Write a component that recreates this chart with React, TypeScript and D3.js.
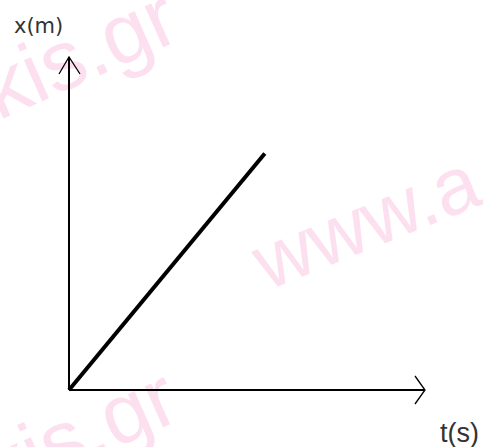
import React from "react";
import * as d3 from "d3";

const tDomain = [0, 10];
const xDomain = [0, 10];
const tValues = [0, 5.5];
const xValues = [0, 7.1];
const axisLabels = ["t(s)", "x(m)"];
const watermarks = ["akis.gr", "www.a", "akis.gr"];

export default function App() {
  const W = 483, H = 447;
  const ox = 69, oy = 390;
  const sx = d3.scaleLinear().domain(tDomain).range([ox, 425]);
  const sy = d3.scaleLinear().domain(xDomain).range([oy, 57]);
  const pts: [number, number][] = tValues.map((t, i) => [t, xValues[i]]);
  const line = d3.line<[number, number]>().x(d => sx(d[0])).y(d => sy(d[1]));
  const wm = "#fde0f0";
  return (
    <svg width={W} height={H} style={{ position: "absolute", left: 0, top: 0 }}>
      <rect width={W} height={H} fill="#fff" />
      <g fontFamily="Liberation Sans, Arial, sans-serif" fill={wm}>
        <text x={-45} y={140} fontSize={85} transform="rotate(-24, -45, 140)">{watermarks[0]}</text>
        <text x={267} y={291} fontSize={80} transform="rotate(-22, 267, 291)">{watermarks[1]}</text>
        <text x={-45} y={520} fontSize={85} transform="rotate(-24, -45, 520)">{watermarks[2]}</text>
      </g>
      <g stroke="#000" strokeWidth={2} fill="none">
        <line x1={sx(tDomain[0])} y1={oy} x2={sx(tDomain[1])} y2={oy} />
        <line x1={ox} y1={sy(xDomain[0])} x2={ox} y2={sy(xDomain[1])} />
        <polyline strokeWidth={1.3} points={`${sx(tDomain[1]) - 10},${oy - 14} ${sx(tDomain[1])},${oy} ${sx(tDomain[1]) - 10},${oy + 14}`} />
        <polyline strokeWidth={1.3} points={`${ox - 10},${sy(xDomain[1]) + 17} ${ox},${sy(xDomain[1])} ${ox + 11},${sy(xDomain[1]) + 17}`} />
        <path d={line(pts) || ""} strokeWidth={4} />
      </g>
      <g fontFamily="DejaVu Sans, sans-serif" fill="#333">
        <text x={14} y={33} fontSize={21}>{axisLabels[1]}</text>
        <text x={440} y={442} fontSize={27} fontFamily="Liberation Sans Narrow, Liberation Sans, sans-serif">{axisLabels[0]}</text>
      </g>
    </svg>
  );
}
